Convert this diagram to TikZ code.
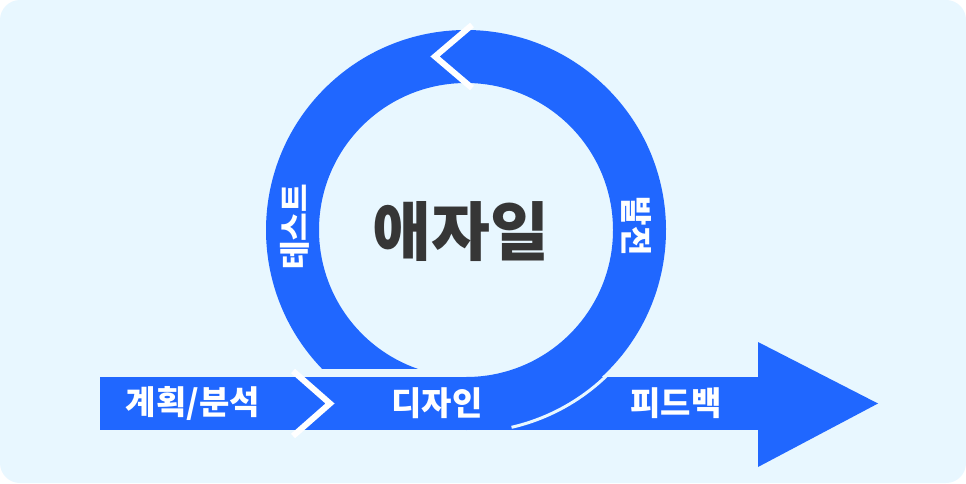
\documentclass[tikz,border=0pt]{standalone}
\usepackage{fontspec}
\setmainfont{Noto Sans CJK KR}
\definecolor{agblue}{HTML}{2067FF}
\definecolor{agbg}{HTML}{E8F7FF}
\definecolor{agtext}{HTML}{363636}
\begin{document}
\begin{tikzpicture}[x=1pt,y=1pt,
  band/.style={font=\bfseries\fontsize{33}{33}\selectfont, text=white, inner sep=0pt},
  chev/.style={draw=white, line width=6pt, miter limit=10}]
\useasboundingbox (0,0) rectangle (966,483);
\fill [white] (0,0) rectangle (966,483);
\fill [agbg, rounded corners=20pt] (0,0) rectangle (966,483);
% band and arrow head
\fill [agblue] (100,53) rectangle (758,106);
\fill [agblue] (758,141) -- (878,79.5) -- (758,16) -- cycle;
% ring
\coordinate (c) at (466,253);
\fill [agblue] (c) ++(224:200) arc [start angle=224, end angle=-90, radius=200]
  -- ++(0,53) arc [start angle=-90, end angle=251, radius=147] -- cycle;
\draw [agbg, line width=3pt] (c) ++(-30:202.5) arc [start angle=-30, end angle=-77, radius=202.5];
% chevrons
\draw [chev] (293,112) -- (330,79.5) -- (293,47);
\draw [chev] (472,458) -- (435,426.5) -- (472,395);
% labels
\node [band] (plan) at (193,80) {계획/분석};
\node [band] (design) at (437,80) {디자인};
\node [band] (feedback) at (676,80) {피드백};
\node [band, rotate=90, font=\bfseries\fontsize{31}{31}\selectfont] (test) at (295,256) {테스트};
\node [band, rotate=-90, font=\bfseries\fontsize{32}{32}\selectfont] (dev) at (637,257) {발전};
\node [text=agtext, font=\bfseries\fontsize{64}{64}\selectfont, inner sep=0pt] (agile) at (461,251) {애자일};
\end{tikzpicture}
\end{document}
